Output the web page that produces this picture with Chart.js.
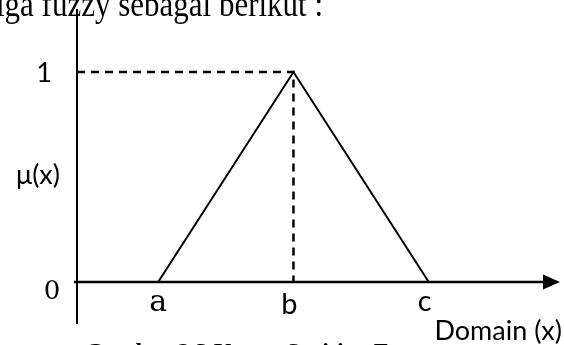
<!DOCTYPE html>
<html>
<head>
<meta charset="utf-8">
<script src="https://cdn.jsdelivr.net/npm/chart.js@4/dist/chart.umd.min.js"></script>
<style>
html,body{margin:0;padding:0;background:#fff;}
#wrap{width:564px;height:345px;position:relative;}
</style>
</head>
<body>
<div id="wrap"><canvas id="c" width="564" height="345"></canvas></div>
<script>
// ---- data ----
const domainTicks = [3, 8, 13];          // a, b, c on the domain axis
const domainLabels = ['a', 'b', 'c'];
const membership = [0, 1, 0];            // μ at a, b, c (triangle)
const muTicks = [0, 1];
const muLabels = ['0', '1'];
const xAxisTitle = 'Domain (x)';
const yAxisTitle = 'μ(x)';
const headText = 'iga fuzzy sebagai berikut :';
const captionText = 'Gambar 2.3 Kurva Segitiga Fuzzy';

const triangle = domainTicks.map((x, i) => ({x: x, y: membership[i]}));
const guide = [
  {x: 0, y: membership[1]},
  {x: domainTicks[1], y: membership[1]},
  {x: domainTicks[1], y: 0}
];

const SANS = 'Lato, "Open Sans", sans-serif';
const SERIF2 = '"DejaVu Serif", serif';
const TIMES = '"Liberation Serif", "Times New Roman", serif';

const decor = {
  id: 'decor',
  beforeDatasetsDraw(chart) {
    const {ctx, scales: {x, y}} = chart;
    ctx.save();
    ctx.strokeStyle = '#000';
    ctx.fillStyle = '#000';
    // y axis
    ctx.lineWidth = 2;
    ctx.beginPath();
    ctx.moveTo(x.getPixelForValue(0), y.getPixelForValue(y.max));
    ctx.lineTo(x.getPixelForValue(0), y.getPixelForValue(y.min));
    ctx.stroke();
    // x axis
    const y0 = y.getPixelForValue(0);
    const xEnd = x.getPixelForValue(x.max);
    ctx.lineWidth = 2.5;
    ctx.beginPath();
    ctx.moveTo(x.getPixelForValue(0) - 3, y0);
    ctx.lineTo(xEnd - 14, y0);
    ctx.stroke();
    ctx.beginPath();
    ctx.moveTo(xEnd, y0);
    ctx.lineTo(xEnd - 17, y0 - 7.5);
    ctx.lineTo(xEnd - 17, y0 + 7.5);
    ctx.closePath();
    ctx.fill();
    ctx.restore();
  },
  afterDatasetsDraw(chart) {
    const {ctx, scales: {x, y}} = chart;
    ctx.save();
    ctx.fillStyle = '#000';
    ctx.textBaseline = 'middle';
    // y tick labels
    ctx.textAlign = 'center';
    ctx.font = '27px ' + SANS;
    ctx.fillText(muLabels[1], 44, y.getPixelForValue(muTicks[1]) + 1);
    ctx.font = '26px ' + SERIF2;
    ctx.fillText(muLabels[0], 52, y.getPixelForValue(muTicks[0]) + 10);
    // y title
    ctx.font = '27px ' + SANS;
    ctx.fillText(yAxisTitle, 38, 175);
    // x tick labels
    const y0 = y.getPixelForValue(0);
    ctx.font = '30px ' + SERIF2;
    ctx.fillText(domainLabels[0], x.getPixelForValue(domainTicks[0]), y0 + 21);
    ctx.font = '29px ' + SANS;
    ctx.fillText(domainLabels[1], x.getPixelForValue(domainTicks[1]) - 4, y0 + 23);
    ctx.fillText(domainLabels[2], x.getPixelForValue(domainTicks[2]) - 4, y0 + 20);
    // x title
    ctx.textAlign = 'right';
    ctx.font = '27px ' + SANS;
    ctx.fillText(xAxisTitle, 562, 331);
    // surrounding document text (cut off by the picture edges)
    ctx.textAlign = 'left';
    ctx.textBaseline = 'alphabetic';
    ctx.save();
    ctx.translate(-4, 16);
    ctx.scale(1, 1.15);
    ctx.font = '31px ' + TIMES;
    ctx.fillText(headText, 0, 0);
    ctx.restore();
    ctx.font = 'bold 24px ' + TIMES;
    ctx.fillText(captionText, 85, 359);
    ctx.restore();
  }
};

new Chart(document.getElementById('c'), {
  type: 'scatter',
  data: {
    datasets: [
      {
        data: triangle,
        showLine: true,
        borderColor: '#000',
        borderWidth: 2,
        pointRadius: 0,
        tension: 0
      },
      {
        data: guide,
        showLine: true,
        borderColor: '#000',
        borderWidth: 2.5,
        borderDash: [8, 6],
        pointRadius: 0,
        tension: 0
      }
    ]
  },
  options: {
    responsive: false,
    animation: false,
    devicePixelRatio: 1,
    layout: {padding: {left: 77, right: 4, top: 9, bottom: 21}},
    plugins: {legend: {display: false}, tooltip: {enabled: false}},
    scales: {
      x: {type: 'linear', display: false, min: 0, max: 17.85},
      y: {type: 'linear', display: false, min: -0.2, max: 1.3}
    }
  },
  plugins: [decor]
});
</script>
</body>
</html>
